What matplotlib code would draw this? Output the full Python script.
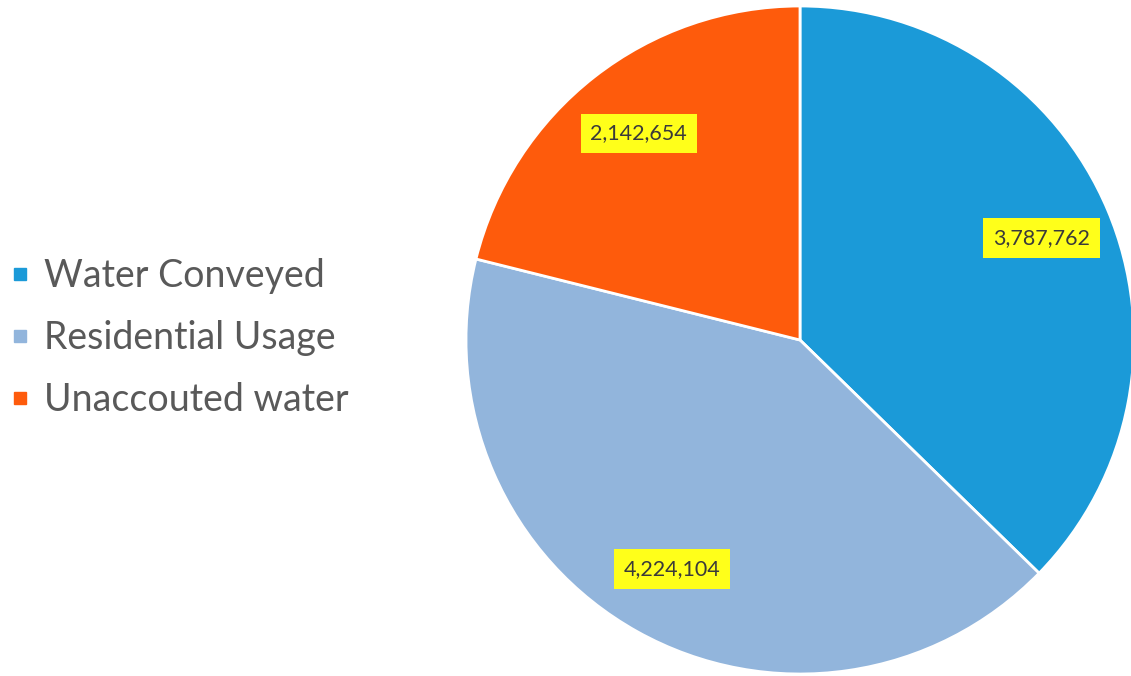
import matplotlib.pyplot as plt
from matplotlib.lines import Line2D

# 数据
labels = ['Water Conveyed', 'Residential Usage', 'Unaccouted water']
values = [3787762, 4224104, 2142654]
colors = ['#1b9ad8', '#92b5dc', '#fe5b0c']

total = sum(values)

fig = plt.figure(figsize=(11.31, 6.76), dpi=100)
ax = fig.add_axes([0, 0, 1, 1])

wedges, texts, autotexts = ax.pie(
    values, colors=colors, startangle=90, counterclock=False,
    center=(800, 336), radius=334, frame=True,
    wedgeprops=dict(edgecolor='white', linewidth=2),
    autopct=lambda p: '{:,}'.format(round(p * total / 100)),
    pctdistance=0.785,
    textprops=dict(fontsize=15.5, color='#3a3a3a', family='Lato'))
ax.set_xlim(0, 1131)
ax.set_ylim(0, 676)
ax.set_aspect('equal')
ax.axis('off')

for t in autotexts:
    t.set_bbox(dict(boxstyle='square,pad=0.45', facecolor='#ffff1a', edgecolor='none'))

# 图例
handles = [Line2D([], [], marker='s', linestyle='none', markersize=9,
                  markerfacecolor=c, markeredgecolor=c) for c in colors]
leg = fig.legend(handles, labels, loc='center left', bbox_to_anchor=(-0.022, 0.5),
                 frameon=False, labelspacing=0.7,
                 handlelength=0.6, handletextpad=0.35,
                 prop=dict(family='Lato', size=27))
for t in leg.get_texts():
    t.set_color('#595959')

fig.savefig('out.png', dpi=100)
